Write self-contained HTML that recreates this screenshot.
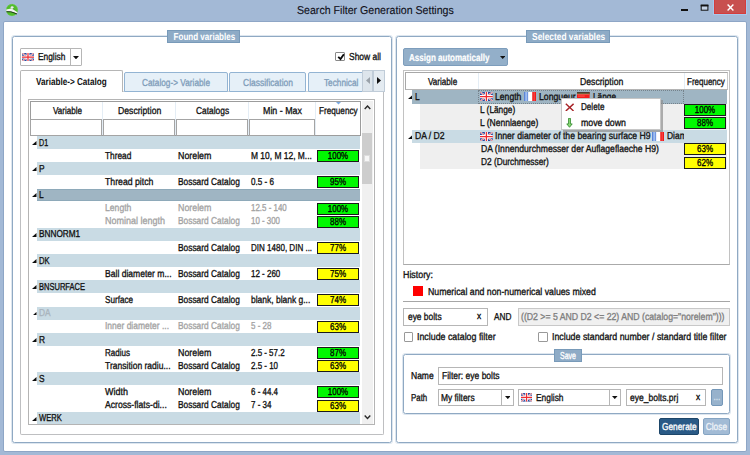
<!DOCTYPE html>
<html lang="en"><head><meta charset="utf-8"><title>Search Filter Generation Settings</title>
<style>
html,body{margin:0;padding:0;}
body{width:750px;height:455px;overflow:hidden;background:#a3b9d6;position:relative;font-family:"Liberation Sans",sans-serif;font-size:9px;color:#111;}
body>div,body>svg{position:absolute;}
.t{white-space:nowrap;line-height:13px;-webkit-text-stroke:0.32px currentColor;}
.flag{position:absolute;display:block;}
.bar{border:1px solid #1a1a1a;box-sizing:border-box;text-align:center;font-size:9.8px;letter-spacing:-0.7px;-webkit-text-stroke:0.15px #111;white-space:nowrap;color:#111;}
.lbl{background:#8eabc6;border:1px solid #789ab9;box-sizing:border-box;}
</style></head><body>
<div style="left:3px;top:21px;width:744px;height:431px;background:#fff;border:1px solid #8ea6c6;border-radius:2px;box-sizing:border-box;"></div>
<svg class="flag" width="14" height="14" viewBox="0 0 14 14" style="left:4.6px;top:2.9px"><circle cx="7" cy="7" r="5.9" fill="#52bd2c"/><circle cx="7" cy="7" r="5.7" fill="none" stroke="#7ad65a" stroke-width="0.7" stroke-dasharray="1.2 1.1"/><path d="M1.2 6.6L6.2 5.6L8.2 6.6L12.4 9.3L12.1 10.5L7.8 8.9L5.6 8.4L1.4 8.3Z" fill="#f4f2f4"/><path d="M1.5 8.7L5.8 8.8L8 9.5L12 11" stroke="#24381f" stroke-width="1" fill="none"/><ellipse cx="7.1" cy="4.5" rx="1.5" ry="1.3" fill="#efe9f2"/><path d="M8.4 5.4L9.4 6.4" stroke="#5a3a5a" stroke-width="0.6"/></svg>
<div class="t" style="left:296.5px;top:2.4px;font-size:11.1px;transform:rotate(0.03deg) scale(0.956,1.03);transform-origin:0 76%;line-height:16px;color:#10101a;-webkit-text-stroke:0.12px #10101a;">Search Filter Generation Settings</div>
<div style="left:681.3px;top:8.6px;width:6.8px;height:2px;background:#111;"></div>
<svg class="flag" width="10" height="8" viewBox="0 0 10 8" style="left:699.5px;top:3.5px"><rect x="1.2" y="1.6" width="6.7" height="4.6" fill="#c5d3e6" stroke="#111" stroke-width="1"/><rect x="0.7" y="0.5" width="7.7" height="1.9" fill="#111"/></svg>
<div style="left:714px;top:0px;width:32px;height:14.4px;background:#c8504f;border:1px solid #d43c3c;border-top:none;box-sizing:border-box;box-shadow:0 0 0 1px #a9c8ec;"></div>
<svg class="flag" width="7" height="7" viewBox="0 0 7 7" style="left:726.9px;top:4.2px"><path d="M0.6 0.6L6.4 6.4M6.4 0.6L0.6 6.4" stroke="#fff" stroke-width="1.45"/></svg>
<div style="left:12px;top:36px;width:380px;height:406.5px;border:1px solid #8fa9c3;border-radius:2.5px;box-sizing:border-box;box-shadow:0 0 0 1px rgba(150,178,205,0.32);"></div>
<div class="lbl" style="left:166.7px;top:30px;width:73px;height:12.8px;"></div>
<div class="t" style="left:166.7px;top:29.7px;width:73px;text-align:center;font-weight:bold;-webkit-text-stroke:0;font-size:9.8px;transform:rotate(0.03deg) scale(0.820,1.03);transform-origin:50% 76%;color:#fff;">Found variables</div>
<div style="left:20px;top:48px;width:61.5px;height:17.5px;border:1px solid #b6b6b6;border-radius:1px;box-sizing:border-box;background:#fff;"></div>
<div style="left:69.8px;top:48.5px;width:0.9px;height:16.5px;background:#b6b6b6;"></div>
<svg class="flag" viewBox="0 0 13 9" width="12" height="8.2" style="left:22px;top:52.8px" preserveAspectRatio="none"><rect width="13" height="9" fill="#2b4a9e"/><path d="M0 0L13 9M13 0L0 9" stroke="#e8ecf8" stroke-width="1.7"/><path d="M0 0L13 9M13 0L0 9" stroke="#e04040" stroke-width="0.7"/><path d="M6.5 0V9M0 4.5H13" stroke="#fff" stroke-width="3.1"/><path d="M6.5 0V9M0 4.5H13" stroke="#ee2a30" stroke-width="1.3"/></svg>
<div class="t" style="left:38px;top:50.2px;font-size:9.8px;transform:rotate(0.03deg) scale(0.853,1.03);transform-origin:0 76%;">English</div>
<svg class="flag" width="6" height="3.3" viewBox="0 0 6 3.3" style="left:73.0px;top:55.75px"><path d="M0 0H6L3.0 3.3Z" fill="#111"/></svg>
<div style="left:335.3px;top:51.7px;width:9.6px;height:9.6px;border:1px solid #8a8a8a;border-radius:1px;background:#fff;box-sizing:border-box;"><svg width="9.6" height="9.6" viewBox="0 0 10 10" style="position:absolute;left:-0.5px;top:-0.5px"><path d="M2.3 5L4.7 7.3L8.2 2.3" stroke="#0a0a0a" stroke-width="1.9" fill="none"/></svg></div>
<div class="t" style="left:349px;top:50.2px;font-size:9.8px;transform:rotate(0.03deg) scale(0.864,1.03);transform-origin:0 76%;">Show all</div>
<div style="left:20px;top:91px;width:363.6px;height:343.6px;border:1px solid #bebfc1;border-top-color:#d0d4d8;border-radius:0 0 2px 2px;box-sizing:border-box;background:#fff;"></div>
<div style="left:124px;top:72px;width:104px;height:20px;border:1px solid #93b4d3;background:#e6f0f8;box-sizing:border-box;border-radius:2px 2px 0 0;"></div>
<div class="t" style="left:142px;top:75.5px;font-size:9.8px;transform:rotate(0.03deg) scale(0.843,1.03);transform-origin:0 76%;color:#809dba;">Catalog-&gt; Variable</div>
<div style="left:229px;top:72px;width:77px;height:20px;border:1px solid #93b4d3;background:#e6f0f8;box-sizing:border-box;border-radius:2px 2px 0 0;"></div>
<div class="t" style="left:242.7px;top:75.5px;font-size:9.8px;transform:rotate(0.03deg) scale(0.866,1.03);transform-origin:0 76%;color:#809dba;">Classification</div>
<div style="left:308px;top:72px;width:60px;height:20px;border:1px solid #93b4d3;background:#e6f0f8;box-sizing:border-box;border-radius:2px 2px 0 0;"></div>
<div class="t" style="left:324.4px;top:75.5px;font-size:9.8px;transform:rotate(0.03deg) scale(0.840,1.03);transform-origin:0 76%;color:#809dba;">Technical</div>
<div style="left:362px;top:70px;width:11px;height:22px;border:1px solid #c0ccd8;background:#dde5ec;box-sizing:border-box;"></div>
<div style="left:373px;top:70px;width:12px;height:22px;border:1px solid #c0ccd8;background:#e4ebf1;box-sizing:border-box;"></div>
<svg class="flag" width="4" height="7" viewBox="0 0 4 7" style="left:365.6px;top:77.4px"><path d="M4 0V7L0 3.5Z" fill="#9aa2aa"/></svg>
<svg class="flag" width="4" height="7" viewBox="0 0 4 7" style="left:376.8px;top:77.4px"><path d="M0 0V7L4 3.5Z" fill="#111"/></svg>
<div style="left:20px;top:70px;width:102.6px;height:22px;border:1px solid #b6b6b6;border-bottom:none;background:#fff;box-sizing:border-box;border-radius:2px 2px 0 0;"></div>
<div class="t" style="left:36px;top:75px;font-weight:bold;-webkit-text-stroke:0;font-size:9.8px;transform:rotate(0.03deg) scale(0.830,1.03);transform-origin:0 76%;">Variable-&gt; Catalog</div>
<div style="left:28px;top:99px;width:347.2px;height:326.4px;border:1px solid #b4b4b4;box-sizing:border-box;background:#fff;"></div>
<div style="left:30px;top:101px;width:330.6px;height:35px;border:1px solid #9c9c9c;box-sizing:border-box;background:#fff;"></div>
<div style="left:102.0px;top:102px;width:0.9px;height:33px;background:#e4edf5;"></div>
<div style="left:175.29999999999998px;top:102px;width:0.9px;height:33px;background:#e4edf5;"></div>
<div style="left:248.29999999999998px;top:102px;width:0.9px;height:33px;background:#e4edf5;"></div>
<div style="left:314.90000000000003px;top:102px;width:0.9px;height:33px;background:#e4edf5;"></div>
<div class="t" style="left:52.5px;top:104.2px;font-size:9.8px;transform:rotate(0.03deg) scale(0.826,1.03);transform-origin:0 76%;">Variable</div>
<div class="t" style="left:118px;top:104.2px;font-size:9.8px;transform:rotate(0.03deg) scale(0.883,1.03);transform-origin:0 76%;">Description</div>
<div class="t" style="left:196px;top:104.2px;font-size:9.8px;transform:rotate(0.03deg) scale(0.856,1.03);transform-origin:0 76%;">Catalogs</div>
<div class="t" style="left:263.4px;top:104.2px;font-size:9.8px;transform:rotate(0.03deg) scale(0.904,1.03);transform-origin:0 76%;">Min - Max</div>
<div class="t" style="left:318.7px;top:104.2px;font-size:9.8px;transform:rotate(0.03deg) scale(0.834,1.03);transform-origin:0 76%;">Frequency</div>
<svg class="flag" width="5" height="2.6" viewBox="0 0 5 2.6" style="left:335.8px;top:102.3px"><path d="M0 0H5L2.5 2.6Z" fill="#78a8e0"/></svg>
<div style="left:30.2px;top:119.2px;width:71.60000000000001px;height:16.4px;border:1px solid #a4a4a4;box-sizing:border-box;background:#fff;"></div>
<div style="left:102.9px;top:119.2px;width:72.19999999999999px;height:16.4px;border:1px solid #a4a4a4;box-sizing:border-box;background:#fff;"></div>
<div style="left:176.2px;top:119.2px;width:71.9px;height:16.4px;border:1px solid #a4a4a4;box-sizing:border-box;background:#fff;"></div>
<div style="left:249.2px;top:119.2px;width:65.5px;height:16.4px;border:1px solid #a4a4a4;box-sizing:border-box;background:#fff;"></div>
<div style="left:362px;top:101px;width:11px;height:323.4px;background:#f0f0f0;"></div>
<div style="left:362px;top:133px;width:10px;height:51.4px;background:#cdcdcd;"></div>
<div style="left:364px;top:155px;width:6px;height:7.4px;background:#f6f6f6;border:1px solid #dcdcdc;box-sizing:border-box;"></div>
<svg class="flag" width="7" height="4.6" viewBox="0 0 7 4.6" style="left:363.6px;top:105.1px"><path d="M0.7 4L3.5 1L6.3 4" stroke="#2a2a2a" stroke-width="1.4" fill="none"/></svg>
<svg class="flag" width="7" height="4.6" viewBox="0 0 7 4.6" style="left:363.6px;top:415.4px"><path d="M0.7 0.6L3.5 3.6L6.3 0.6" stroke="#2a2a2a" stroke-width="1.4" fill="none"/></svg>
<div style="left:37px;top:136.0px;width:323px;height:12.88px;background:#c9dbe4;"></div>
<svg class="flag" width="4.5" height="3.92" viewBox="0 0 4.5 3.92" style="left:32.1px;top:140.9px"><path d="M4.5 0V3.92H0Z" fill="#0c0c0c"/></svg>
<div class="t" style="left:39.3px;top:135.55px;font-size:9.8px;transform:rotate(0.03deg) scale(0.726,1.03);transform-origin:0 76%;">D1</div>
<div class="t" style="left:105px;top:148.68px;font-size:9.8px;transform:rotate(0.03deg) scale(0.850,1.03);transform-origin:0 76%;">Thread</div>
<div class="t" style="left:177.5px;top:148.68px;font-size:9.8px;transform:rotate(0.03deg) scale(0.902,1.03);transform-origin:0 76%;">Norelem</div>
<div class="t" style="left:250.8px;top:148.68px;font-size:9.8px;transform:rotate(0.03deg) scale(0.860,1.03);transform-origin:0 76%;">M 10, M 12, M...</div>
<div class="bar" style="left:317px;top:150px;width:42px;height:12px;background:#00f800;"></div>
<div class="t" style="left:317px;top:148.9px;width:42px;text-align:center;font-size:9.8px;transform:rotate(0.03deg) scale(0.810,1.03);transform-origin:50% 76%;color:#000;-webkit-text-stroke:0.3px #000;">100%</div>
<div style="left:37px;top:162.26px;width:323px;height:12.88px;background:#c9dbe4;"></div>
<svg class="flag" width="4.5" height="3.92" viewBox="0 0 4.5 3.92" style="left:32.1px;top:167.16px"><path d="M4.5 0V3.92H0Z" fill="#0c0c0c"/></svg>
<div class="t" style="left:39.3px;top:161.81px;font-size:9.8px;transform:rotate(0.03deg) scale(0.849,1.03);transform-origin:0 76%;">P</div>
<div class="t" style="left:105px;top:174.94px;font-size:9.8px;transform:rotate(0.03deg) scale(0.889,1.03);transform-origin:0 76%;">Thread pitch</div>
<div class="t" style="left:177.5px;top:174.94px;font-size:9.8px;transform:rotate(0.03deg) scale(0.853,1.03);transform-origin:0 76%;">Bossard Catalog</div>
<div class="t" style="left:250.8px;top:174.94px;font-size:9.8px;transform:rotate(0.03deg) scale(0.824,1.03);transform-origin:0 76%;">0.5 - 6</div>
<div class="bar" style="left:317px;top:176px;width:42px;height:12px;background:#00f800;"></div>
<div class="t" style="left:317px;top:174.9px;width:42px;text-align:center;font-size:9.8px;transform:rotate(0.03deg) scale(0.816,1.03);transform-origin:50% 76%;color:#000;-webkit-text-stroke:0.3px #000;">95%</div>
<div style="left:37px;top:188.52px;width:323px;height:12.88px;background:#9fb5c3;border-top:1px solid #8ea9b9;border-bottom:1px solid #8ea9b9;box-sizing:border-box;"></div>
<svg class="flag" width="4.5" height="3.92" viewBox="0 0 4.5 3.92" style="left:32.1px;top:193.42000000000002px"><path d="M4.5 0V3.92H0Z" fill="#0c0c0c"/></svg>
<div class="t" style="left:39.3px;top:188.07000000000002px;font-size:9.8px;transform:rotate(0.03deg) scale(0.849,1.03);transform-origin:0 76%;">L</div>
<div class="t" style="left:105px;top:201.2px;font-size:9.8px;transform:rotate(0.03deg) scale(0.881,1.03);transform-origin:0 76%;color:#a3a3a3;">Length</div>
<div class="t" style="left:177.5px;top:201.2px;font-size:9.8px;transform:rotate(0.03deg) scale(0.902,1.03);transform-origin:0 76%;color:#a3a3a3;">Norelem</div>
<div class="t" style="left:250.8px;top:201.2px;font-size:9.8px;transform:rotate(0.03deg) scale(0.809,1.03);transform-origin:0 76%;color:#a3a3a3;">12.5 - 140</div>
<div class="bar" style="left:317px;top:203px;width:42px;height:12px;background:#00f800;"></div>
<div class="t" style="left:317px;top:201.9px;width:42px;text-align:center;font-size:9.8px;transform:rotate(0.03deg) scale(0.810,1.03);transform-origin:50% 76%;color:#000;-webkit-text-stroke:0.3px #000;">100%</div>
<div class="t" style="left:105px;top:214.33px;font-size:9.8px;transform:rotate(0.03deg) scale(0.918,1.03);transform-origin:0 76%;color:#a3a3a3;">Nominal length</div>
<div class="t" style="left:177.5px;top:214.33px;font-size:9.8px;transform:rotate(0.03deg) scale(0.853,1.03);transform-origin:0 76%;color:#a3a3a3;">Bossard Catalog</div>
<div class="t" style="left:250.8px;top:214.33px;font-size:9.8px;transform:rotate(0.03deg) scale(0.807,1.03);transform-origin:0 76%;color:#a3a3a3;">10 - 300</div>
<div class="bar" style="left:317px;top:216px;width:42px;height:12px;background:#00f800;"></div>
<div class="t" style="left:317px;top:214.9px;width:42px;text-align:center;font-size:9.8px;transform:rotate(0.03deg) scale(0.816,1.03);transform-origin:50% 76%;color:#000;-webkit-text-stroke:0.3px #000;">88%</div>
<div style="left:37px;top:227.91px;width:323px;height:12.88px;background:#c9dbe4;"></div>
<svg class="flag" width="4.5" height="3.92" viewBox="0 0 4.5 3.92" style="left:32.1px;top:232.81px"><path d="M4.5 0V3.92H0Z" fill="#0c0c0c"/></svg>
<div class="t" style="left:39.3px;top:227.46px;font-size:9.8px;transform:rotate(0.03deg) scale(0.841,1.03);transform-origin:0 76%;">BNNORM1</div>
<div class="t" style="left:177.5px;top:240.59px;font-size:9.8px;transform:rotate(0.03deg) scale(0.853,1.03);transform-origin:0 76%;">Bossard Catalog</div>
<div class="t" style="left:250.8px;top:240.59px;font-size:9.8px;transform:rotate(0.03deg) scale(0.819,1.03);transform-origin:0 76%;">DIN 1480, DIN ...</div>
<div class="bar" style="left:317px;top:242px;width:42px;height:12px;background:#ffff00;"></div>
<div class="t" style="left:317px;top:240.9px;width:42px;text-align:center;font-size:9.8px;transform:rotate(0.03deg) scale(0.816,1.03);transform-origin:50% 76%;color:#000;-webkit-text-stroke:0.3px #000;">77%</div>
<div style="left:37px;top:254.17px;width:323px;height:12.88px;background:#c9dbe4;"></div>
<svg class="flag" width="4.5" height="3.92" viewBox="0 0 4.5 3.92" style="left:32.1px;top:259.07px"><path d="M4.5 0V3.92H0Z" fill="#0c0c0c"/></svg>
<div class="t" style="left:39.3px;top:253.72px;font-size:9.8px;transform:rotate(0.03deg) scale(0.778,1.03);transform-origin:0 76%;">DK</div>
<div class="t" style="left:105px;top:266.85px;font-size:9.8px;transform:rotate(0.03deg) scale(0.874,1.03);transform-origin:0 76%;">Ball diameter m...</div>
<div class="t" style="left:177.5px;top:266.85px;font-size:9.8px;transform:rotate(0.03deg) scale(0.853,1.03);transform-origin:0 76%;">Bossard Catalog</div>
<div class="t" style="left:250.8px;top:266.85px;font-size:9.8px;transform:rotate(0.03deg) scale(0.815,1.03);transform-origin:0 76%;">12 - 260</div>
<div class="bar" style="left:317px;top:268px;width:42px;height:12px;background:#ffff00;"></div>
<div class="t" style="left:317px;top:266.9px;width:42px;text-align:center;font-size:9.8px;transform:rotate(0.03deg) scale(0.816,1.03);transform-origin:50% 76%;color:#000;-webkit-text-stroke:0.3px #000;">75%</div>
<div style="left:37px;top:280.43px;width:323px;height:12.88px;background:#c9dbe4;"></div>
<svg class="flag" width="4.5" height="3.92" viewBox="0 0 4.5 3.92" style="left:32.1px;top:285.33px"><path d="M4.5 0V3.92H0Z" fill="#0c0c0c"/></svg>
<div class="t" style="left:39.3px;top:279.98px;font-size:9.8px;transform:rotate(0.03deg) scale(0.768,1.03);transform-origin:0 76%;">BNSURFACE</div>
<div class="t" style="left:105px;top:293.11px;font-size:9.8px;transform:rotate(0.03deg) scale(0.829,1.03);transform-origin:0 76%;">Surface</div>
<div class="t" style="left:177.5px;top:293.11px;font-size:9.8px;transform:rotate(0.03deg) scale(0.853,1.03);transform-origin:0 76%;">Bossard Catalog</div>
<div class="t" style="left:250.8px;top:293.11px;font-size:9.8px;transform:rotate(0.03deg) scale(0.864,1.03);transform-origin:0 76%;">blank, blank g...</div>
<div class="bar" style="left:317px;top:294px;width:42px;height:12px;background:#ffff00;"></div>
<div class="t" style="left:317px;top:292.9px;width:42px;text-align:center;font-size:9.8px;transform:rotate(0.03deg) scale(0.816,1.03);transform-origin:50% 76%;color:#000;-webkit-text-stroke:0.3px #000;">74%</div>
<div style="left:37px;top:306.69px;width:323px;height:12.88px;background:#c9dbe4;"></div>
<svg class="flag" width="4.5" height="3.92" viewBox="0 0 4.5 3.92" style="left:32.1px;top:311.59px"><path d="M4.5 0V3.92H0Z" fill="#0c0c0c"/></svg>
<div class="t" style="left:39.3px;top:306.24px;font-size:9.8px;transform:rotate(0.03deg) scale(0.849,1.03);transform-origin:0 76%;color:#a9b4bd;">DA</div>
<div class="t" style="left:105px;top:319.37px;font-size:9.8px;transform:rotate(0.03deg) scale(0.864,1.03);transform-origin:0 76%;color:#a3a3a3;">Inner diameter ...</div>
<div class="t" style="left:177.5px;top:319.37px;font-size:9.8px;transform:rotate(0.03deg) scale(0.853,1.03);transform-origin:0 76%;color:#a3a3a3;">Bossard Catalog</div>
<div class="t" style="left:250.8px;top:319.37px;font-size:9.8px;transform:rotate(0.03deg) scale(0.814,1.03);transform-origin:0 76%;color:#a3a3a3;">5 - 28</div>
<div class="bar" style="left:317px;top:321px;width:42px;height:12px;background:#ffff00;"></div>
<div class="t" style="left:317px;top:319.9px;width:42px;text-align:center;font-size:9.8px;transform:rotate(0.03deg) scale(0.816,1.03);transform-origin:50% 76%;color:#000;-webkit-text-stroke:0.3px #000;">63%</div>
<div style="left:37px;top:332.95px;width:323px;height:12.88px;background:#c9dbe4;"></div>
<svg class="flag" width="4.5" height="3.92" viewBox="0 0 4.5 3.92" style="left:32.1px;top:337.84999999999997px"><path d="M4.5 0V3.92H0Z" fill="#0c0c0c"/></svg>
<div class="t" style="left:39.3px;top:332.5px;font-size:9.8px;transform:rotate(0.03deg) scale(0.849,1.03);transform-origin:0 76%;">R</div>
<div class="t" style="left:105px;top:345.63px;font-size:9.8px;transform:rotate(0.03deg) scale(0.820,1.03);transform-origin:0 76%;">Radius</div>
<div class="t" style="left:177.5px;top:345.63px;font-size:9.8px;transform:rotate(0.03deg) scale(0.902,1.03);transform-origin:0 76%;">Norelem</div>
<div class="t" style="left:250.8px;top:345.63px;font-size:9.8px;transform:rotate(0.03deg) scale(0.811,1.03);transform-origin:0 76%;">2.5 - 57.2</div>
<div class="bar" style="left:317px;top:347px;width:42px;height:12px;background:#00f800;"></div>
<div class="t" style="left:317px;top:345.9px;width:42px;text-align:center;font-size:9.8px;transform:rotate(0.03deg) scale(0.816,1.03);transform-origin:50% 76%;color:#000;-webkit-text-stroke:0.3px #000;">87%</div>
<div class="t" style="left:105px;top:358.76px;font-size:9.8px;transform:rotate(0.03deg) scale(0.871,1.03);transform-origin:0 76%;">Transition radiu...</div>
<div class="t" style="left:177.5px;top:358.76px;font-size:9.8px;transform:rotate(0.03deg) scale(0.853,1.03);transform-origin:0 76%;">Bossard Catalog</div>
<div class="t" style="left:250.8px;top:358.76px;font-size:9.8px;transform:rotate(0.03deg) scale(0.812,1.03);transform-origin:0 76%;">2.5 - 10</div>
<div class="bar" style="left:317px;top:360px;width:42px;height:12px;background:#ffff00;"></div>
<div class="t" style="left:317px;top:358.9px;width:42px;text-align:center;font-size:9.8px;transform:rotate(0.03deg) scale(0.816,1.03);transform-origin:50% 76%;color:#000;-webkit-text-stroke:0.3px #000;">63%</div>
<div style="left:37px;top:372.34px;width:323px;height:12.88px;background:#c9dbe4;"></div>
<svg class="flag" width="4.5" height="3.92" viewBox="0 0 4.5 3.92" style="left:32.1px;top:377.23999999999995px"><path d="M4.5 0V3.92H0Z" fill="#0c0c0c"/></svg>
<div class="t" style="left:39.3px;top:371.89px;font-size:9.8px;transform:rotate(0.03deg) scale(0.849,1.03);transform-origin:0 76%;">S</div>
<div class="t" style="left:105px;top:385.02px;font-size:9.8px;transform:rotate(0.03deg) scale(0.918,1.03);transform-origin:0 76%;">Width</div>
<div class="t" style="left:177.5px;top:385.02px;font-size:9.8px;transform:rotate(0.03deg) scale(0.902,1.03);transform-origin:0 76%;">Norelem</div>
<div class="t" style="left:250.8px;top:385.02px;font-size:9.8px;transform:rotate(0.03deg) scale(0.812,1.03);transform-origin:0 76%;">6 - 44.4</div>
<div class="bar" style="left:317px;top:386px;width:42px;height:12px;background:#00f800;"></div>
<div class="t" style="left:317px;top:384.9px;width:42px;text-align:center;font-size:9.8px;transform:rotate(0.03deg) scale(0.810,1.03);transform-origin:50% 76%;color:#000;-webkit-text-stroke:0.3px #000;">100%</div>
<div class="t" style="left:105px;top:398.15px;font-size:9.8px;transform:rotate(0.03deg) scale(0.880,1.03);transform-origin:0 76%;">Across-flats-di...</div>
<div class="t" style="left:177.5px;top:398.15px;font-size:9.8px;transform:rotate(0.03deg) scale(0.853,1.03);transform-origin:0 76%;">Bossard Catalog</div>
<div class="t" style="left:250.8px;top:398.15px;font-size:9.8px;transform:rotate(0.03deg) scale(0.814,1.03);transform-origin:0 76%;">7 - 34</div>
<div class="bar" style="left:317px;top:400px;width:42px;height:12px;background:#ffff00;"></div>
<div class="t" style="left:317px;top:398.9px;width:42px;text-align:center;font-size:9.8px;transform:rotate(0.03deg) scale(0.816,1.03);transform-origin:50% 76%;color:#000;-webkit-text-stroke:0.3px #000;">63%</div>
<div style="left:37px;top:411.73px;width:323px;height:12.15px;background:#c9dbe4;"></div>
<svg class="flag" width="4.5" height="3.92" viewBox="0 0 4.5 3.92" style="left:32.1px;top:416.63px"><path d="M4.5 0V3.92H0Z" fill="#0c0c0c"/></svg>
<div class="t" style="left:39.3px;top:411.28000000000003px;font-size:9.8px;transform:rotate(0.03deg) scale(0.775,1.03);transform-origin:0 76%;">WERK</div>
<div style="left:396px;top:36px;width:341.8px;height:406.5px;border:1px solid #8fa9c3;border-radius:2.5px;box-sizing:border-box;box-shadow:0 0 0 1px rgba(150,178,205,0.32);"></div>
<div class="lbl" style="left:526px;top:30px;width:84px;height:12.6px;"></div>
<div class="t" style="left:526px;top:29.6px;width:84px;text-align:center;font-weight:bold;-webkit-text-stroke:0;font-size:9.8px;transform:rotate(0.03deg) scale(0.855,1.03);transform-origin:50% 76%;color:#fff;">Selected variables</div>
<div style="left:403.3px;top:48.3px;width:105px;height:17.4px;background:#93afc9;border:1px solid #7d9dbc;border-radius:2px;box-sizing:border-box;"></div>
<div class="t" style="left:409px;top:51.1px;font-weight:bold;-webkit-text-stroke:0;font-size:9.8px;transform:rotate(0.03deg) scale(0.820,1.03);transform-origin:0 76%;color:#fff;-webkit-text-stroke:0.2px #fff;">Assign automatically</div>
<svg class="flag" width="5.4" height="3" viewBox="0 0 5.4 3" style="left:499.90000000000003px;top:55.7px"><path d="M0 0H5.4L2.7 3Z" fill="#111"/></svg>
<div style="left:403px;top:70px;width:327px;height:195px;border:1px solid #c2c2c2;border-bottom-color:#aaaaaa;box-sizing:border-box;background:#fff;"></div>
<div style="left:405px;top:72px;width:323px;height:18px;border:1px solid #a8a8a8;border-right-color:#cacaca;border-bottom-color:#b4b4b4;box-sizing:border-box;background:#fff;"></div>
<div style="left:478.0px;top:73.4px;width:0.9px;height:16px;background:#e4edf5;"></div>
<div style="left:683.8000000000001px;top:73.4px;width:0.9px;height:16px;background:#e4edf5;"></div>
<div class="t" style="left:427.8px;top:75.4px;font-size:9.8px;transform:rotate(0.03deg) scale(0.829,1.03);transform-origin:0 76%;">Variable</div>
<div class="t" style="left:579.5px;top:75.4px;font-size:9.8px;transform:rotate(0.03deg) scale(0.883,1.03);transform-origin:0 76%;">Description</div>
<div class="t" style="left:686.7px;top:75.4px;font-size:9.8px;transform:rotate(0.03deg) scale(0.816,1.03);transform-origin:0 76%;">Frequency</div>
<div style="left:412.3px;top:90.4px;width:314.8px;height:13.13px;background:#9fb5c3;"></div>
<div style="left:478.4px;top:90.10000000000001px;width:205.8px;height:13.430000000000001px;border:0.7px dotted rgba(50,50,50,0.38);box-sizing:border-box;"></div>
<svg class="flag" width="4.5" height="3.92" viewBox="0 0 4.5 3.92" style="left:407.5px;top:95.30000000000001px"><path d="M4.5 0V3.92H0Z" fill="#0c0c0c"/></svg>
<div class="t" style="left:415px;top:89.5px;font-size:9.8px;transform:rotate(0.03deg) scale(0.849,1.03);transform-origin:0 76%;">L</div>
<svg class="flag" viewBox="0 0 13 9" width="12.8" height="9.2" style="left:480px;top:92.2px" preserveAspectRatio="none"><rect width="13" height="9" fill="#2b4a9e"/><path d="M0 0L13 9M13 0L0 9" stroke="#e8ecf8" stroke-width="1.7"/><path d="M0 0L13 9M13 0L0 9" stroke="#e04040" stroke-width="0.7"/><path d="M6.5 0V9M0 4.5H13" stroke="#fff" stroke-width="3.1"/><path d="M6.5 0V9M0 4.5H13" stroke="#ee2a30" stroke-width="1.3"/></svg>
<div class="t" style="left:494.8px;top:89.5px;font-size:9.8px;transform:rotate(0.03deg) scale(0.881,1.03);transform-origin:0 76%;">Length</div>
<svg class="flag" viewBox="0 0 12 9" width="12.4" height="9.2" style="left:524px;top:92.2px" preserveAspectRatio="none"><rect width="12" height="9" fill="#fff"/><rect width="4" height="9" fill="#5b86d8"/><rect x="1.2" width="2" height="9" fill="#9fbdf0"/><rect x="8" width="4" height="9" fill="#f01818"/><rect x="9.4" width="0.8" height="9" fill="#f86060"/></svg>
<div class="t" style="left:538.8px;top:89.5px;font-size:9.8px;transform:rotate(0.03deg) scale(0.886,1.03);transform-origin:0 76%;">Longueur</div>
<svg class="flag" viewBox="0 0 13 9" width="12.6" height="9.2" style="left:577.4px;top:92.2px" preserveAspectRatio="none"><rect width="13" height="9" fill="#f41d1d"/><rect width="13" height="2" fill="#4e3d34"/><rect y="1.1" width="13" height="0.6" fill="#8a7a40"/><rect y="2" width="13" height="0.9" fill="#e85a4a"/><rect x="1" y="3.4" width="7" height="1.2" fill="#ff6a5a" opacity="0.7"/><rect y="7.2" width="13" height="1.8" fill="#eaa030"/></svg>
<div class="t" style="left:592.6px;top:89.5px;font-size:9.8px;transform:rotate(0.03deg) scale(0.844,1.03);transform-origin:0 76%;">Länge</div>
<div style="left:419.8px;top:103.53px;width:307.3px;height:26.26px;background:#efefef;"></div>
<div class="t" style="left:480.4px;top:102.63px;font-size:9.8px;transform:rotate(0.03deg) scale(0.847,1.03);transform-origin:0 76%;">L (Länge)</div>
<div class="t" style="left:480.4px;top:115.76px;font-size:9.8px;transform:rotate(0.03deg) scale(0.869,1.03);transform-origin:0 76%;">L (Nennlaenge)</div>
<div class="bar" style="left:684px;top:104px;width:42px;height:12px;background:#00f800;"></div>
<div class="t" style="left:684px;top:102.9px;width:42px;text-align:center;font-size:9.8px;transform:rotate(0.03deg) scale(0.810,1.03);transform-origin:50% 76%;color:#000;-webkit-text-stroke:0.3px #000;">100%</div>
<div class="bar" style="left:684px;top:117px;width:42px;height:12px;background:#00f800;"></div>
<div class="t" style="left:684px;top:115.9px;width:42px;text-align:center;font-size:9.8px;transform:rotate(0.03deg) scale(0.816,1.03);transform-origin:50% 76%;color:#000;-webkit-text-stroke:0.3px #000;">88%</div>
<div style="left:412.3px;top:129.79px;width:314.8px;height:13.13px;background:#c9dbe4;"></div>
<svg class="flag" width="4.5" height="3.92" viewBox="0 0 4.5 3.92" style="left:407.5px;top:134.69px"><path d="M4.5 0V3.92H0Z" fill="#0c0c0c"/></svg>
<div class="t" style="left:414.8px;top:128.89px;font-size:9.8px;transform:rotate(0.03deg) scale(0.877,1.03);transform-origin:0 76%;">DA / D2</div>
<svg class="flag" viewBox="0 0 13 9" width="12.8" height="9.2" style="left:480px;top:131.59px" preserveAspectRatio="none"><rect width="13" height="9" fill="#2b4a9e"/><path d="M0 0L13 9M13 0L0 9" stroke="#e8ecf8" stroke-width="1.7"/><path d="M0 0L13 9M13 0L0 9" stroke="#e04040" stroke-width="0.7"/><path d="M6.5 0V9M0 4.5H13" stroke="#fff" stroke-width="3.1"/><path d="M6.5 0V9M0 4.5H13" stroke="#ee2a30" stroke-width="1.3"/></svg>
<div class="t" style="left:494.5px;top:128.89px;font-size:9.8px;transform:rotate(0.03deg) scale(0.885,1.03);transform-origin:0 76%;">Inner diameter of the bearing surface H9</div>
<svg class="flag" viewBox="0 0 12 9" width="12.4" height="9.2" style="left:652px;top:131.59px" preserveAspectRatio="none"><rect width="12" height="9" fill="#fff"/><rect width="4" height="9" fill="#5b86d8"/><rect x="1.2" width="2" height="9" fill="#9fbdf0"/><rect x="8" width="4" height="9" fill="#f01818"/><rect x="9.4" width="0.8" height="9" fill="#f86060"/></svg>
<div style="left:667.4px;top:128.89px;width:16.6px;height:13px;overflow:hidden">
<div class="t" style="left:0px;top:0px;font-size:9.8px;transform:rotate(0.03deg) scale(0.860,1.03);transform-origin:0 76%;position:absolute;">Diamètre</div>
</div>
<div style="left:419.8px;top:142.92px;width:307.3px;height:26.26px;background:#efefef;"></div>
<div class="t" style="left:480.6px;top:142.02px;font-size:9.8px;transform:rotate(0.03deg) scale(0.878,1.03);transform-origin:0 76%;">DA (Innendurchmesser der Auflageflaeche H9)</div>
<div class="t" style="left:480.6px;top:155.15px;font-size:9.8px;transform:rotate(0.03deg) scale(0.847,1.03);transform-origin:0 76%;">D2 (Durchmesser)</div>
<div class="bar" style="left:684px;top:143px;width:42px;height:12px;background:#ffff00;"></div>
<div class="t" style="left:684px;top:141.9px;width:42px;text-align:center;font-size:9.8px;transform:rotate(0.03deg) scale(0.816,1.03);transform-origin:50% 76%;color:#000;-webkit-text-stroke:0.3px #000;">63%</div>
<div class="bar" style="left:684px;top:157px;width:42px;height:12px;background:#ffff00;"></div>
<div class="t" style="left:684px;top:155.9px;width:42px;text-align:center;font-size:9.8px;transform:rotate(0.03deg) scale(0.816,1.03);transform-origin:50% 76%;color:#000;-webkit-text-stroke:0.3px #000;">62%</div>
<div style="left:563px;top:100.2px;width:100px;height:31.6px;background:#8e8e8e;opacity:0.7;"></div>
<div style="left:561px;top:98.4px;width:100px;height:31.8px;background:#fff;border:1px solid #c6c6c6;box-sizing:border-box;"></div>
<svg class="flag" width="9.4" height="8.8" viewBox="0 0 9.4 8.8" style="left:564.7px;top:102.6px"><path d="M0.8 0.8L8.6 8M8.6 0.8L0.8 8" stroke="#a82226" stroke-width="1.45" fill="none"/></svg>
<div class="t" style="left:581px;top:99.7px;font-size:9.8px;transform:rotate(0.03deg) scale(0.826,1.03);transform-origin:0 76%;">Delete</div>
<svg class="flag" width="7" height="9.6" viewBox="0 0 7 9.6" style="left:566.2px;top:118.2px"><path d="M2.55 0.3H4.45V5.9H6.2L3.5 9.3L0.8 5.9H2.55Z" fill="#8fdc7a" stroke="#2a8426" stroke-width="0.8"/></svg>
<div class="t" style="left:581px;top:115.7px;font-size:9.8px;transform:rotate(0.03deg) scale(0.898,1.03);transform-origin:0 76%;">move down</div>
<div class="t" style="left:403px;top:268.4px;font-size:9.8px;transform:rotate(0.03deg) scale(0.903,1.03);transform-origin:0 76%;">History:</div>
<div style="left:413.1px;top:286.3px;width:10.2px;height:10px;background:#ff0000;"></div>
<div class="t" style="left:427.5px;top:284.6px;font-size:9.8px;transform:rotate(0.03deg) scale(0.893,1.03);transform-origin:0 76%;">Numerical and non-numerical values mixed</div>
<div style="left:403.3px;top:301px;width:326.7px;height:1px;background:#a6a6a6;"></div>
<div style="left:403px;top:308px;width:85px;height:18px;border:1px solid #b6b6b6;box-sizing:border-box;background:#fff;"></div>
<div class="t" style="left:407.8px;top:310.3px;font-size:9.8px;transform:rotate(0.03deg) scale(0.857,1.03);transform-origin:0 76%;">eye bolts</div>
<div class="t" style="left:476.8px;top:310.1px;font-size:9.2px;transform:rotate(0.03deg) scale(0.905,1.03);transform-origin:0 76%;-webkit-text-stroke:0.3px currentColor;color:#000;">x</div>
<div class="t" style="left:494.2px;top:310.3px;font-size:9.8px;transform:rotate(0.03deg) scale(0.841,1.03);transform-origin:0 76%;">AND</div>
<div style="left:518px;top:308px;width:212px;height:18px;border:1px solid #c8c8c8;box-sizing:border-box;background:#f0f0f0;"></div>
<div class="t" style="left:520.5px;top:310.3px;font-size:9.8px;transform:rotate(0.03deg) scale(0.889,1.03);transform-origin:0 76%;color:#7e7e7e;">((D2 &gt;= 5 AND D2 &lt;= 22) AND (catalog="norelem")))</div>
<div style="left:403.6px;top:332.1px;width:9.6px;height:9.6px;border:1px solid #999;border-radius:1px;background:#fff;box-sizing:border-box;"></div>
<div class="t" style="left:417.4px;top:330.1px;font-size:9.8px;transform:rotate(0.03deg) scale(0.902,1.03);transform-origin:0 76%;">Include catalog filter</div>
<div style="left:538.3px;top:332.1px;width:9.6px;height:9.6px;border:1px solid #999;border-radius:1px;background:#fff;box-sizing:border-box;"></div>
<div class="t" style="left:552.2px;top:330.1px;font-size:9.8px;transform:rotate(0.03deg) scale(0.900,1.03);transform-origin:0 76%;">Include standard number / standard title filter</div>
<div style="left:403px;top:354px;width:327px;height:60px;border:1px solid #8fa9c3;border-radius:2.5px;box-sizing:border-box;box-shadow:0 0 0 1px rgba(150,178,205,0.32);"></div>
<div class="lbl" style="left:553.8px;top:348.8px;width:28px;height:12.8px;"></div>
<div class="t" style="left:553.8px;top:348.5px;width:28px;text-align:center;font-size:9.8px;transform:rotate(0.03deg) scale(0.716,1.03);transform-origin:50% 76%;color:#fff;">Save</div>
<div class="t" style="left:410.8px;top:369px;font-size:9.8px;transform:rotate(0.03deg) scale(0.868,1.03);transform-origin:0 76%;">Name</div>
<div style="left:438px;top:367px;width:285px;height:18px;border:1px solid #b6b6b6;box-sizing:border-box;background:#fff;"></div>
<div class="t" style="left:442.4px;top:369.3px;font-size:9.8px;transform:rotate(0.03deg) scale(0.867,1.03);transform-origin:0 76%;">Filter: eye bolts</div>
<div class="t" style="left:410.8px;top:390.6px;font-size:9.8px;transform:rotate(0.03deg) scale(0.804,1.03);transform-origin:0 76%;">Path</div>
<div style="left:438px;top:389px;width:75.5px;height:16.8px;border:1px solid #b6b6b6;box-sizing:border-box;background:#fff;"></div>
<div style="left:501.4px;top:389.5px;width:0.9px;height:15.8px;background:#b6b6b6;"></div>
<div class="t" style="left:441.4px;top:390.9px;font-size:9.8px;transform:rotate(0.03deg) scale(0.857,1.03);transform-origin:0 76%;">My filters</div>
<svg class="flag" width="5.6" height="3.1" viewBox="0 0 5.6 3.1" style="left:504.59999999999997px;top:396.25px"><path d="M0 0H5.6L2.8 3.1Z" fill="#111"/></svg>
<div style="left:518.2px;top:389px;width:102.4px;height:16.8px;border:1px solid #b6b6b6;box-sizing:border-box;background:#fff;"></div>
<div style="left:609px;top:389.5px;width:0.9px;height:15.8px;background:#b6b6b6;"></div>
<svg class="flag" viewBox="0 0 13 9" width="11.2" height="8.6" style="left:520.6px;top:393.4px" preserveAspectRatio="none"><rect width="13" height="9" fill="#2b4a9e"/><path d="M0 0L13 9M13 0L0 9" stroke="#e8ecf8" stroke-width="1.7"/><path d="M0 0L13 9M13 0L0 9" stroke="#e04040" stroke-width="0.7"/><path d="M6.5 0V9M0 4.5H13" stroke="#fff" stroke-width="3.1"/><path d="M6.5 0V9M0 4.5H13" stroke="#ee2a30" stroke-width="1.3"/></svg>
<div class="t" style="left:536.2px;top:390.9px;font-size:9.8px;transform:rotate(0.03deg) scale(0.856,1.03);transform-origin:0 76%;">English</div>
<svg class="flag" width="5.6" height="3.1" viewBox="0 0 5.6 3.1" style="left:612.2px;top:396.25px"><path d="M0 0H5.6L2.8 3.1Z" fill="#111"/></svg>
<div style="left:625.6px;top:389px;width:80.6px;height:16.8px;border:1px solid #b6b6b6;box-sizing:border-box;background:#fff;"></div>
<div class="t" style="left:630px;top:390.9px;font-size:9.8px;transform:rotate(0.03deg) scale(0.869,1.03);transform-origin:0 76%;">eye_bolts.prj</div>
<div class="t" style="left:695.8px;top:390.7px;font-size:9.2px;transform:rotate(0.03deg) scale(0.905,1.03);transform-origin:0 76%;-webkit-text-stroke:0.3px currentColor;color:#000;">x</div>
<div style="left:711px;top:389.4px;width:11.8px;height:16.2px;background:#97b2cc;border:1px solid #7497b8;border-radius:2px;box-sizing:border-box;"></div>
<div class="t" style="left:711px;top:390.4px;width:11.8px;text-align:center;font-size:9.8px;transform:rotate(0.03deg) scale(0.849,1.03);transform-origin:50% 76%;color:#d5e0ec;">...</div>
<div style="left:659px;top:418.3px;width:40px;height:16.6px;background:#2a5a86;border:1px solid #1d4669;border-radius:2px;box-sizing:border-box;"></div>
<div class="t" style="left:659px;top:420px;width:40px;text-align:center;font-size:9.8px;transform:rotate(0.03deg) scale(0.849,1.03);transform-origin:50% 76%;color:#fff;">Generate</div>
<div style="left:703.4px;top:418.3px;width:26.8px;height:16.6px;background:#a2bbd5;border:1px solid #86a5c3;border-radius:2px;box-sizing:border-box;"></div>
<div class="t" style="left:703.4px;top:420px;width:26.8px;text-align:center;font-size:9.8px;transform:rotate(0.03deg) scale(0.849,1.03);transform-origin:50% 76%;color:#eef3f8;">Close</div>
</body></html>
